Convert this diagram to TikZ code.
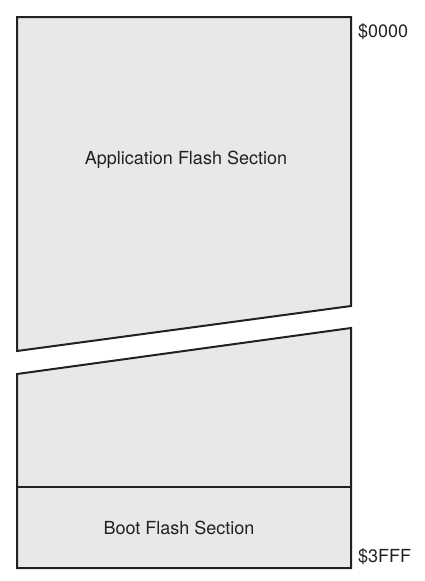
\documentclass[tikz,border=0pt]{standalone}
\usepackage{fontspec}
\setmainfont{TeX Gyre Heros}
\usetikzlibrary{positioning}

\begin{document}
\begin{tikzpicture}[x=1pt, y=-1pt,
  blk/.style={draw=black!87, fill=black!9, line width=2pt, line join=miter},
  lbl/.style={font=\fontsize{18}{21}\selectfont, text=black!87},
  addr/.style={lbl, anchor=west, inner sep=0pt},
]
\useasboundingbox (0,0) rectangle (424,581);
% upper part of the map, cut off at a slant
\draw[blk] (17,17) -- (351,17) -- (351,306) -- (17,351) -- cycle;
% lower part with the boot section
\draw[blk] (17,374) -- (351,328) -- (351,568) -- (17,568) -- cycle;
\coordinate (divl) at (17,487);
\coordinate (divr) at (351,487);
\draw[blk] (divl) -- (divr);
\node[lbl] (app) at (186,160) {Application Flash Section};
\node[lbl] (boot) at (179,528) {Boot Flash Section};
\node[addr] (first) at (358,32) {\$0000};
\node[addr] (last) at (358,557) {\$3FFF};
\end{tikzpicture}
\end{document}
